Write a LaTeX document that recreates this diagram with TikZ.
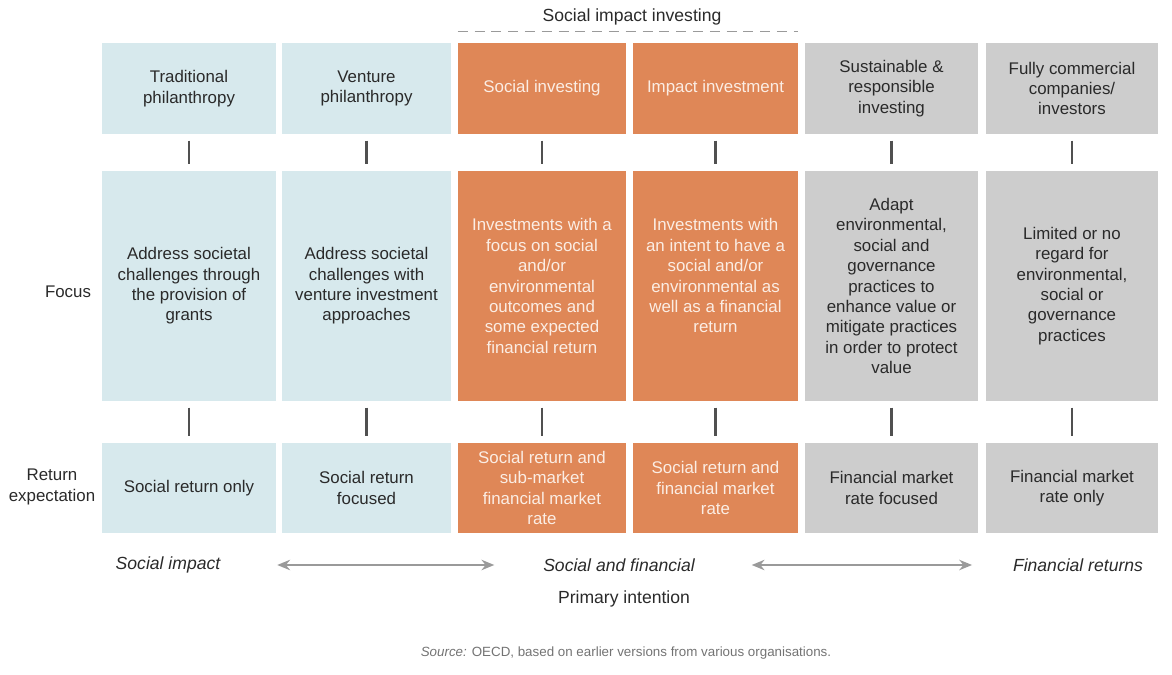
\documentclass[tikz,border=0pt]{standalone}
\usepackage{fontspec}
\setmainfont{Liberation Sans}
\usepackage{tikz}
\usetikzlibrary{arrows.meta,positioning}

\definecolor{phblue}{HTML}{D7E9ED}
\definecolor{siorange}{HTML}{DF8757}
\definecolor{srgray}{HTML}{CDCDCD}
\definecolor{inkdark}{HTML}{2A2A2A}
\definecolor{inklight}{HTML}{FBEDE4}
\definecolor{rulegray}{HTML}{9A9A9A}
\definecolor{tickgray}{HTML}{505050}

\tikzset{
  cell/.style={inner sep=0pt, align=center, minimum width=#1,
    font=\fontsize{12}{14.5}\selectfont},
  toprow/.style={minimum height=2.275cm},
  midrow/.style={minimum height=5.75cm},
  botrow/.style={minimum height=2.25cm},
  philbox/.style={fill=phblue, text=inkdark},
  impactbox/.style={fill=siorange, text=inklight},
  mktbox/.style={fill=srgray, text=inkdark},
  rowlabel/.style={align=center, text=inkdark, font=\fontsize{12}{14.5}\selectfont},
  tick/.style={draw=tickgray, line width=1.5pt, shorten <=0.16cm, shorten >=0.16cm},
  twoway/.style={{Stealth[length=0.32cm,width=0.26cm]}-{Stealth[length=0.32cm,width=0.26cm]},
    draw=rulegray, line width=1.5pt},
  intent/.style={text=inkdark, font=\fontsize{12.5}{15}\selectfont\itshape}
}

\begin{document}
\begin{tikzpicture}[x=0.025cm, y=-0.025cm]
\useasboundingbox (0,0) rectangle (1172,675);

% heading over the two orange columns
\node[text=inkdark, font=\fontsize{12.5}{15}\selectfont] (sii) at (632,17) {Social impact investing};

% top row
\node[cell=4.35cm, toprow, philbox] (t1) at (189,88.5) {Traditional\\philanthropy};
\node[cell=4.225cm, toprow, philbox] (t2) at (366.5,88.5) {Venture\\philanthropy};
\node[cell=4.2cm, toprow, impactbox] (t3) at (542,88.5) {Social investing};
\node[cell=4.125cm, toprow, impactbox] (t4) at (715.5,88.5) {Impact investment};
\node[cell=4.325cm, toprow, mktbox] (t5) at (891.5,88.5) {Sustainable \&\\responsible\\investing};
\node[cell=4.3cm, toprow, mktbox] (t6) at (1072,88.5) {Fully commercial\\companies/\\investors};

\draw[rulegray, line width=1pt, dash pattern=on 0.25cm off 0.17cm]
  ([yshift=0.275cm]t3.north west) -- ([yshift=0.275cm]t4.north east);

% focus row
\node[rowlabel] (focus) at (68,292) {Focus};
\node[cell=4.35cm, midrow, philbox] (f1) at (189,286) {Address societal\\challenges through\\the provision of\\grants};
\node[cell=4.225cm, midrow, philbox] (f2) at (366.5,286) {Address societal\\challenges with\\venture investment\\approaches};
\node[cell=4.2cm, midrow, impactbox] (f3) at (542,286) {Investments with a\\focus on social\\and/or\\environmental\\outcomes and\\some expected\\financial return};
\node[cell=4.125cm, midrow, impactbox] (f4) at (715.5,286) {Investments with\\an intent to have a\\social and/or\\environmental as\\well as a financial\\return\\~};
\node[cell=4.325cm, midrow, mktbox] (f5) at (891.5,286) {Adapt\\environmental,\\social and\\governance\\practices to\\enhance value or\\mitigate practices\\in order to protect\\value};
\node[cell=4.3cm, midrow, mktbox] (f6) at (1072,286) {Limited or no\\regard for\\environmental,\\social or\\governance\\practices};

% return row
\node[rowlabel] (ret) at (52,487) {Return\\expectation};
\node[cell=4.35cm, botrow, philbox] (r1) at (189,488) {Social return only};
\node[cell=4.225cm, botrow, philbox] (r2) at (366.5,488) {Social return\\focused};
\node[cell=4.2cm, botrow, impactbox] (r3) at (542,488) {Social return and\\sub-market\\financial market\\rate};
\node[cell=4.125cm, botrow, impactbox] (r4) at (715.5,488) {Social return and\\financial market\\rate};
\node[cell=4.325cm, botrow, mktbox] (r5) at (891.5,488) {Financial market\\rate focused};
\node[cell=4.3cm, botrow, mktbox] (r6) at (1072,488) {Financial market\\rate only};

% ticks between the rows
\draw[tick] (t1) -- (f1);
\draw[tick] (t2) -- (f2);
\draw[tick] (t3) -- (f3);
\draw[tick] (t4) -- (f4);
\draw[tick] (t5) -- (f5);
\draw[tick] (t6) -- (f6);
\draw[tick] (f1) -- (r1);
\draw[tick] (f2) -- (r2);
\draw[tick] (f3) -- (r3);
\draw[tick] (f4) -- (r4);
\draw[tick] (f5) -- (r5);
\draw[tick] (f6) -- (r6);

% primary intention scale
\node[intent] (simp) at (168,565) {Social impact};
\node[intent] (sfin) at (619,565) {Social and financial};
\node[intent] (fret) at (1078,565) {Financial returns};
\draw[twoway, shorten <=1.3cm, shorten >=1.1cm] (simp) -- (sfin);
\draw[twoway, shorten <=1.3cm, shorten >=0.9cm] (sfin) -- (fret);
\node[text=inkdark, font=\fontsize{12.5}{15}\selectfont] (prim) at (624,599) {Primary intention};

\node[text=black!55, font=\fontsize{9.5}{11}\selectfont] (src) at (626,653) {\textit{Source:} OECD, based on earlier versions from various organisations.};

\end{tikzpicture}
\end{document}
